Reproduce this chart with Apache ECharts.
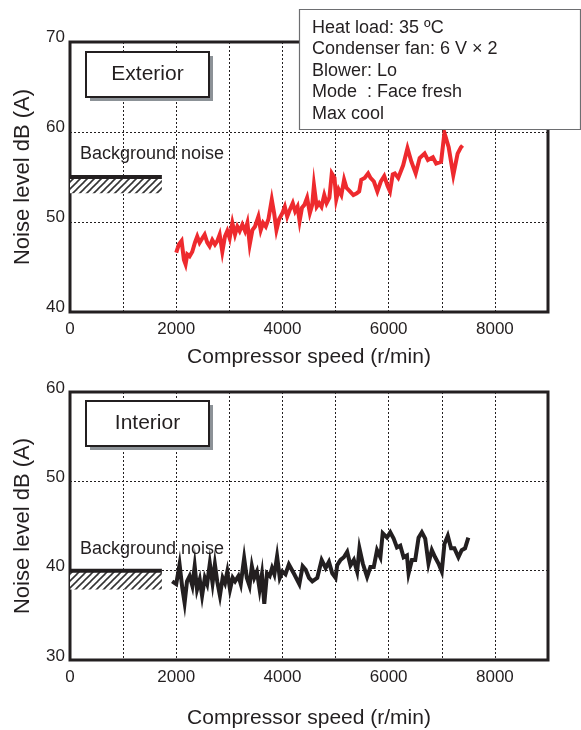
<!DOCTYPE html>
<html><head><meta charset="utf-8">
<script src="https://cdn.jsdelivr.net/npm/echarts@6/dist/echarts.min.js"></script>
<style>html,body{margin:0;padding:0;background:#fff}#c{width:581px;height:730px}</style>
</head><body><div id="c"></div>
<script>
// ---- data ----
const extSpeed = [2000,2050,2101,2145,2176,2208,2252,2302,2352,2396,2440,2491,2535,2585,2629,2679,2730,2774,2818,2868,2918,2962,3006,3057,3107,3151,3195,3245,3296,3340,3384,3434,3484,3547,3591,3635,3686,3736,3799,3843,3887,3937,4000,4045,4090,4142,4194,4239,4284,4323,4368,4413,4464,4516,4561,4593,4645,4690,4735,4787,4832,4884,4929,4980,5013,5058,5109,5161,5206,5271,5335,5400,5445,5484,5548,5613,5658,5722,5787,5852,5916,5980,6025,6077,6116,6180,6273,6354,6428,6509,6584,6677,6739,6832,6894,6987,7050,7130,7217,7298,7360,7391];
const extNoise = [46.6,47.5,47.9,45.8,45.3,46.4,46.2,46.7,47.7,48.4,47.7,48.2,48.6,47.7,47.3,48.0,47.5,47.9,48.6,46.7,48.4,49.0,48.2,49.9,48.6,49.5,49.0,49.7,49.0,49.9,47.5,49.1,49.5,50.6,49.1,49.9,49.5,50.3,52.5,51.0,49.1,50.3,51.0,51.7,50.6,51.4,52.1,51.2,51.7,50.1,51.6,51.9,52.7,51.0,51.9,54.1,51.7,52.1,51.7,53.0,52.1,52.7,55.4,54.9,52.5,53.6,53.0,54.7,53.8,53.4,53.0,53.2,53.4,54.7,54.9,55.4,54.9,54.5,53.4,54.5,55.1,54.0,53.4,55.3,55.4,54.9,56.3,58.2,56.7,55.4,57.1,57.6,56.9,57.2,56.5,56.7,59.9,58.3,55.2,57.6,58.3,58.5];
const intSpeed = [1924,2000,2063,2114,2158,2203,2253,2304,2348,2392,2443,2487,2538,2582,2633,2684,2728,2772,2823,2874,2918,2962,3013,3063,3108,3171,3215,3279,3329,3380,3424,3469,3519,3570,3614,3658,3709,3760,3804,3848,3899,3950,4000,4057,4121,4223,4318,4381,4438,4500,4563,4656,4738,4813,4875,4938,5000,5031,5094,5156,5219,5281,5344,5406,5450,5513,5594,5656,5719,5781,5844,5888,5969,6031,6094,6156,6219,6281,6344,6375,6438,6500,6563,6625,6688,6750,6813,6875,6938,7000,7050,7113,7175,7238,7313,7375,7438,7500];
const intNoise = [38.8,38.5,40.7,38.1,36.4,38.8,39.4,38.3,40.5,37.9,39.0,37.2,39.2,38.5,40.8,38.6,40.7,38.8,37.2,39.2,38.6,39.9,37.9,39.2,38.8,39.4,38.5,41.4,39.2,38.3,40.5,39.2,39.9,37.9,39.6,36.3,39.7,39.4,40.3,39.6,41.6,39.2,39.9,39.6,40.7,39.6,38.5,40.5,40.1,39.2,38.8,39.2,41.2,40.3,41.0,39.7,39.2,40.6,41.2,41.5,42.1,40.6,41.2,39.9,42.5,40.8,39.3,40.4,40.4,42.3,41.5,44.2,43.7,44.3,43.6,42.6,42.8,41.5,41.7,39.7,41.2,41.2,43.7,44.3,43.6,40.8,42.3,41.5,40.8,39.9,43.0,43.9,42.5,42.5,41.5,42.3,42.5,43.7];
const xRange = [0, 9000];
const extYRange = [40, 70];
const intYRange = [30, 60];
const bgExtent = [0, 1730];
const bgExtLevels = [53.2, 55];   // hatched band bottom, top line
const bgIntLevels = [37.9, 40];
const panelNames = ['Exterior', 'Interior'];
const bgLabel = 'Background noise';
const conditions = ['Heat load: 35 ºC', 'Condenser fan: 6 V \u00d7 2', 'Blower: Lo', 'Mode  : Face fresh', 'Max cool'];
const xName = 'Compressor speed (r/min)';
const yName = 'Noise level dB (A)';

// ---- styles ----
const INK = '#231f20';
const FONT = "'Liberation Sans', Arial, Helvetica, sans-serif";

function hatchCanvas() {
  const s = 7, c = document.createElement('canvas');
  c.width = s; c.height = s;
  const g = c.getContext('2d');
  g.fillStyle = '#fff'; g.fillRect(0, 0, s, s);
  g.strokeStyle = '#333'; g.lineWidth = 1.6;
  for (const o of [-s, 0, s]) { g.beginPath(); g.moveTo(o - 1, s + 1); g.lineTo(o + s + 1, -1); g.stroke(); }
  return c;
}
const hatch = { image: hatchCanvas(), repeat: 'repeat' };

const pairs = (xs, ys) => xs.map((x, i) => [x, ys[i]]);

function xAxis(gridIndex, gap) {
  return {
    type: 'value', gridIndex, min: xRange[0], max: xRange[1], interval: 1000,
    name: xName, nameLocation: 'middle', nameGap: gap,
    nameTextStyle: { fontFamily: FONT, fontSize: 21, color: INK },
    axisLine: { show: false }, axisTick: { show: false },
    axisLabel: { margin: 9, fontFamily: FONT, fontSize: 17, color: INK,
      formatter: v => (v % 2000 === 0 ? String(v) : '') },
    splitLine: { show: true, lineStyle: { type: [2, 2], color: INK, width: 1 } }
  };
}
function yAxis(gridIndex, range, shift) {
  return {
    type: 'value', gridIndex, min: range[0], max: range[1], interval: 10,
    name: yName, nameLocation: 'middle', nameGap: 36, nameRotate: 90,
    nameTextStyle: { fontFamily: FONT, fontSize: 22, color: INK },
    axisLine: { show: false }, axisTick: { show: false },
    axisLabel: { margin: 5, color: INK, formatter: v => '{t|' + v + '}',
      rich: { t: { fontFamily: FONT, fontSize: 17, color: INK, padding: [0, 0, shift, 0] } } },
    splitLine: { show: true, lineStyle: { type: [2, 2], color: INK, width: 1 } }
  };
}
function bgSeries(idx, levels) {
  return {
    type: 'line', xAxisIndex: idx, yAxisIndex: idx, silent: true, symbol: 'none', z: 3,
    data: [[bgExtent[0], levels[1]], [bgExtent[1], levels[1]]],
    lineStyle: { color: INK, width: 4 },
    markArea: { silent: true, itemStyle: { color: hatch, borderWidth: 0 },
      data: [[{ coord: [bgExtent[0], levels[0]] }, { coord: [bgExtent[1], levels[1]] }]] }
  };
}
function panelBox(cy, text) {
  const top = cy - 22.5;
  return [
    { type: 'rect', z: 100, shape: { x: 90, y: top + 4, width: 123, height: 45 }, style: { fill: '#8c9297' } },
    { type: 'rect', z: 101, shape: { x: 86, y: top, width: 123, height: 45 }, style: { fill: '#fff', stroke: INK, lineWidth: 2 } },
    { type: 'text', z: 102, x: 147.5, y: cy, style: { text, fontFamily: FONT, fontSize: 21, fill: INK, align: 'center', verticalAlign: 'middle' } }
  ];
}

const chart = echarts.init(document.getElementById('c'), null, { renderer: 'canvas' });
chart.setOption({
  animation: false,
  backgroundColor: '#fff',
  grid: [
    { left: 70, top: 42, width: 478, height: 270, show: true, borderColor: INK, borderWidth: 3, backgroundColor: 'transparent' },
    { left: 70, top: 392, width: 478, height: 268, show: true, borderColor: INK, borderWidth: 3, backgroundColor: 'transparent' }
  ],
  xAxis: [xAxis(0, 35), xAxis(1, 48)],
  yAxis: [yAxis(0, extYRange, 10), yAxis(1, intYRange, 8)],
  series: [
    bgSeries(0, bgExtLevels),
    bgSeries(1, bgIntLevels),
    { name: panelNames[0], type: 'line', xAxisIndex: 0, yAxisIndex: 0, symbol: 'none', z: 4,
      data: pairs(extSpeed, extNoise), lineStyle: { color: '#ee2a2e', width: 4, join: 'miter' } },
    { name: panelNames[1], type: 'line', xAxisIndex: 1, yAxisIndex: 1, symbol: 'none', z: 4,
      data: pairs(intSpeed, intNoise), lineStyle: { color: INK, width: 4, join: 'miter' } }
  ],
  graphic: [
    ...panelBox(74.5, panelNames[0]),
    ...panelBox(423.5, panelNames[1]),
    { type: 'text', z: 100, x: 80, y: 154, style: { text: bgLabel, fontFamily: FONT, fontSize: 18, fill: INK, verticalAlign: 'middle' } },
    { type: 'text', z: 100, x: 80, y: 549, style: { text: bgLabel, fontFamily: FONT, fontSize: 18, fill: INK, verticalAlign: 'middle' } },
    { type: 'rect', z: 110, shape: { x: 299.5, y: 9.5, width: 281, height: 120 }, style: { fill: '#fff', stroke: '#6d6e71', lineWidth: 1.2 } },
    { type: 'text', z: 111, x: 312, y: 17, style: { text: conditions.join('\n'), lineHeight: 21.5, fontFamily: FONT, fontSize: 18, fill: INK } }
  ]
});
</script>
</body></html>
